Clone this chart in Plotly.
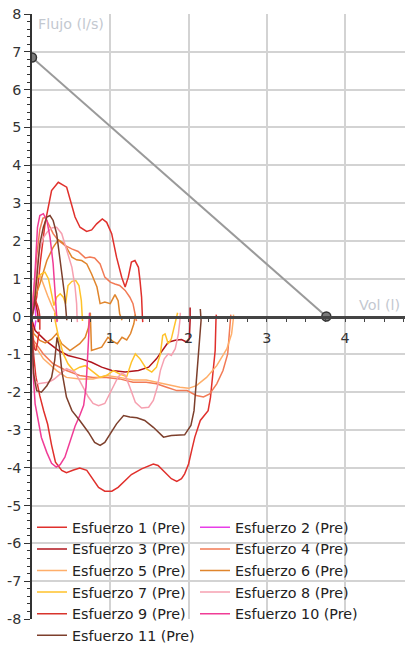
import plotly.graph_objects as go

# ---------------- data ----------------
series_names = ["Esfuerzo 1 (Pre)", "Esfuerzo 2 (Pre)", "Esfuerzo 3 (Pre)", "Esfuerzo 4 (Pre)",
                "Esfuerzo 5 (Pre)", "Esfuerzo 6 (Pre)", "Esfuerzo 7 (Pre)", "Esfuerzo 8 (Pre)",
                "Esfuerzo 9 (Pre)", "Esfuerzo 10 (Pre)", "Esfuerzo 11 (Pre)"]
series_colors = ["#e0302c", "#e83ee8", "#b0141c", "#f27a55", "#ffae6a", "#e0852c",
                 "#ffc22a", "#f6a0b0", "#d8342c", "#f03c96", "#7d3f2c"]

# each series: expiration (flow > 0) then inspiration (flow < 0), separated by None
esf1_vol = [0.0, 0.02, 0.06, 0.11, 0.166, 0.25, 0.336, 0.443, 0.507, 0.55, 0.613, 0.698, 0.762, 0.826, 0.898,
            0.954, 1.018, 1.08, 1.146, 1.19, 1.23, 1.27, 1.315, 1.36, 1.38, 1.40, 1.41, 1.415, None,
            0.0, 0.02, 0.05, 0.10, 0.15, 0.20, 0.25, 0.30, 0.38, 0.44, 0.53, 0.61, 0.70, 0.76, 0.85, 0.93,
            1.02, 1.10, 1.19, 1.27, 1.40, 1.55, 1.61, 1.70, 1.78, 1.85, 1.91, 1.95, 2.0, 2.04, 2.08, 2.15,
            2.25, 2.28, 2.31, 2.34, 2.35, 2.355]
esf1_flujo = [0.0, 0.2, 0.51, 1.5, 2.45, 3.33, 3.55, 3.42, 2.98, 2.63, 2.36, 2.25, 2.29, 2.45, 2.58,
              2.49, 2.19, 1.57, 1.04, 0.78, 1.04, 1.44, 1.48, 1.30, 0.95, 0.51, 0.0, -0.15, None,
              -0.3, -1.0, -1.6, -2.1, -2.5, -2.85, -3.4, -3.85, -4.07, -4.13, -4.06, -4.01, -4.07, -4.25, -4.52, -4.62,
              -4.62, -4.52, -4.34, -4.18, -4.03, -3.90, -3.94, -4.12, -4.29, -4.36, -4.29, -4.16, -3.90, -3.54, -3.19, -2.75,
              -2.49, -2.14, -1.56, -0.9, -0.1, 0.05]

esf2_vol = [0.0, 0.01, 0.025, 0.04, 0.05, None, 0.0, 0.01, 0.03, 0.05]
esf2_flujo = [0.0, 0.35, 0.5, 0.25, 0.0, None, -0.05, -0.3, -0.35, -0.1]

esf3_vol = [0.0, 0.01, 0.025, 0.04, 0.06, 0.075, 0.08, None,
            0.0, 0.04, 0.17, 0.34, 0.46, 0.63, 0.76, 0.89, 1.02, 1.19, 1.36, 1.49, 1.59, 1.68, 1.74,
            1.83, 1.91, 1.98, 2.01, 2.02, 2.02]
esf3_flujo = [0.0, 0.35, 0.55, 0.45, 0.25, 0.05, -0.15, None,
              -0.1, -0.37, -0.63, -0.90, -1.03, -1.12, -1.21, -1.34, -1.43, -1.47, -1.43, -1.34, -1.12, -0.85, -0.68,
              -0.63, -0.61, -0.68, -0.59, -0.1, 0.24]

esf4_vol = [0.0, 0.02, 0.06, 0.10, 0.14, 0.17, 0.22, 0.27, 0.336, 0.42, 0.507, 0.59, 0.68, 0.74, 0.80, 0.87,
            0.93, 1.0, 1.06, 1.12, 1.19, 1.25, 1.29, 1.32, 1.335, None,
            0.0, 0.02, 0.145, 0.27, 0.44, 0.61, 0.78, 0.95, 1.12, 1.29, 1.46, 1.59, 1.72, 1.85, 1.98,
            2.10, 2.19, 2.27, 2.36, 2.44, 2.50, 2.53, 2.54]
esf4_flujo = [0.0, 0.5, 1.6, 2.3, 2.6, 2.62, 2.4, 2.19, 2.01, 1.88, 1.79, 1.72, 1.55, 1.57, 1.55, 1.39,
              1.04, 0.91, 0.86, 0.82, 0.69, 0.51, 0.34, 0.07, -0.12, None,
              -0.2, -0.63, -0.99, -1.25, -1.43, -1.56, -1.61, -1.61, -1.65, -1.74, -1.74, -1.78, -1.87, -1.96, -1.96,
              -2.09, -2.13, -2.05, -1.78, -1.43, -0.99, -0.3, 0.05]

esf5_vol = [0.0, 0.02, 0.05, 0.08, 0.11, 0.15, 0.2, 0.25, 0.3, 0.32, 0.325, None,
            0.0, 0.02, 0.145, 0.315, 0.44, 0.61, 0.78, 0.95, 1.12, 1.29, 1.46, 1.59, 1.72, 1.89, 2.0,
            2.10, 2.23, 2.36, 2.49, 2.55, 2.57, 2.575]
esf5_flujo = [0.0, 0.5, 0.9, 1.1, 1.05, 0.8, 0.55, 0.3, 0.1, 0.0, -0.12, None,
              -0.2, -0.71, -1.12, -1.43, -1.61, -1.65, -1.65, -1.56, -1.61, -1.68, -1.68, -1.74, -1.80, -1.87, -1.90,
              -1.83, -1.61, -1.30, -0.85, -0.46, -0.1, 0.05]

esf6_vol = [0.0, 0.04, 0.10, 0.19, 0.27, 0.336, 0.40, 0.44, 0.51, 0.57, 0.635, 0.70, 0.76, 0.83, 0.87,
            0.93, 1.0, 1.06, 1.10, 1.12, 1.15, None,
            0.0, 0.02, 0.1, 0.17, 0.25, 0.315, 0.38, 0.485, 0.61, 0.68, 0.72, 0.735, 0.745, 0.76, 0.82,
            0.89, 0.97, 1.03, 1.09, 1.15, 1.21, 1.26, 1.30, 1.32]
esf6_flujo = [0.0, 0.51, 0.86, 1.48, 1.83, 2.03, 1.94, 1.83, 1.57, 1.50, 1.48, 1.39, 1.13, 0.78, 0.34,
              0.38, 0.34, 0.58, 0.42, 0.07, -0.1, None,
              -0.2, -0.45, -0.63, -0.7, -0.6, -0.45, -0.72, -0.9, -0.72, -0.55, -0.3, 0.0, 0.1, -0.9, -0.85,
              -0.81, -0.55, -0.65, -0.72, -0.55, -0.62, -0.45, -0.2, 0.05]

esf7_vol = [0.0, 0.02, 0.06, 0.12, 0.166, 0.21, 0.25, 0.28, 0.315, 0.36, 0.40, 0.43, 0.46, 0.51, 0.56,
            0.60, 0.63, 0.64, 0.645, None,
            0.29, 0.295, 0.34, 0.40, 0.46, 0.53, 0.61, 0.68, 0.76, 0.87, 0.95, 1.04, 1.12, 1.21, 1.27,
            1.32, 1.38, 1.46, 1.53, 1.59, 1.64, 1.67, 1.70, 1.74, 1.78, 1.83, 1.86]
esf7_flujo = [0.0, 0.69, 1.0, 1.13, 1.17, 1.0, 0.60, 0.29, 0.51, 0.60, 0.51, 0.34, 0.82, 0.93, 0.95,
              0.82, 0.42, 0.0, -0.12, None,
              0.1, -0.1, -0.55, -0.99, -1.25, -1.43, -1.34, -1.3, -1.43, -1.61, -1.56, -1.43, -1.52, -1.59, -1.21,
              -0.99, -1.12, -1.38, -1.47, -1.34, -0.99, -0.5, -0.46, -0.72, -0.59, -0.1, 0.1]

esf8_vol = [0.0, 0.02, 0.06, 0.1, 0.15, 0.2, 0.26, 0.315, 0.38, 0.44, 0.51, 0.55, 0.57, 0.575, 0.58, None,
            0.0, 0.01, 0.04, 0.08, 0.14, 0.21, 0.28, 0.34, 0.44, 0.55, 0.635, 0.72, 0.78, 0.85, 0.93,
            0.98, 1.04, 1.1, 1.15, 1.19, 1.25, 1.32, 1.40, 1.49, 1.55, 1.60, 1.64, 1.69, 1.74, 1.78,
            1.83, 1.87, 1.89, 1.895]
esf8_flujo = [0.0, 0.6, 1.3, 1.8, 2.1, 2.25, 2.35, 2.36, 2.19, 1.75, 1.30, 0.78, 0.34, 0.0, -0.15, None,
              -0.3, -1.2, -1.7, -1.78, -1.76, -1.74, -1.66, -1.56, -1.38, -1.47, -1.78, -2.13, -2.3, -2.36, -2.3,
              -2.1, -1.85, -1.6, -1.5, -1.55, -1.87, -2.27, -2.42, -2.40, -2.22, -1.87, -1.43, -1.12, -0.99, -1.03,
              -0.85, -0.46, -0.1, 0.1]

esf9_vol = [0.0, 0.01, 0.03, 0.05, 0.07, 0.09, 0.10, 0.10, None, 0.0, 0.01, 0.03, 0.05, 0.07, 0.09]
esf9_flujo = [0.0, 0.25, 0.45, 0.4, 0.3, 0.15, 0.0, -0.35, None, -0.15, -0.5, -0.85, -0.9, -0.7, -0.4]

esf10_vol = [0.0, 0.02, 0.04, 0.07, 0.10, 0.145, 0.19, 0.23, 0.27, 0.29, 0.315, 0.32, None,
             0.0, 0.01, 0.02, 0.04, 0.08, 0.12, 0.19, 0.25, 0.31, 0.36, 0.42, 0.485, 0.55, 0.61, 0.66,
             0.69, 0.71, 0.725, 0.73, 0.735]
esf10_flujo = [0.0, 0.5, 1.22, 2.36, 2.67, 2.72, 2.54, 2.10, 1.39, 0.78, 0.0, -0.15, None,
               -0.3, -1.0, -1.69, -2.31, -2.75, -3.2, -3.6, -3.88, -3.98, -3.92, -3.72, -3.3, -2.9, -2.62, -2.35,
               -1.87, -1.2, -0.5, -0.1, 0.1]

esf11_vol = [0.0, 0.03, 0.06, 0.10, 0.145, 0.19, 0.23, 0.27, 0.315, 0.336, 0.36, 0.39, 0.42, 0.44, 0.445, None,
             0.0, 0.02, 0.06, 0.12, 0.19, 0.25, 0.29, 0.32, 0.35, 0.38, 0.44, 0.51, 0.61, 0.72, 0.80,
             0.87, 0.93, 1.0, 1.08, 1.17, 1.25, 1.34, 1.44, 1.55, 1.68, 1.78, 1.95, 2.03, 2.07, 2.10,
             2.13, 2.16, 2.15]
esf11_flujo = [0.0, 0.3, 1.0, 1.92, 2.36, 2.63, 2.67, 2.54, 2.19, 1.83, 1.39, 0.86, 0.51, 0.0, -0.1, None,
               -0.3, -1.52, -1.96, -2.0, -1.83, -1.61, -1.16, -0.55, -0.81, -1.43, -2.13, -2.49, -2.75, -3.06, -3.33,
               -3.41, -3.33, -3.10, -2.84, -2.62, -2.66, -2.68, -2.75, -2.93, -3.19, -3.15, -3.13, -2.88, -2.49, -1.69,
               -0.99, -0.1, 0.2]

series_vol = [esf1_vol, esf2_vol, esf3_vol, esf4_vol, esf5_vol, esf6_vol,
              esf7_vol, esf8_vol, esf9_vol, esf10_vol, esf11_vol]
series_flujo = [esf1_flujo, esf2_flujo, esf3_flujo, esf4_flujo, esf5_flujo, esf6_flujo,
                esf7_flujo, esf8_flujo, esf9_flujo, esf10_flujo, esf11_flujo]

# predicted line (PEF -> FVC)
linea_vol = [0.0, 3.76]
linea_flujo = [6.85, 0.0]

x_tick_vals = [1, 2, 3, 4]
x_tick_labels = ["1", "2", "3", "4"]
y_tick_vals = [8, 7, 6, 5, 4, 3, 2, 1, 0, -1, -2, -3, -4, -5, -6, -7, -8]
y_tick_labels = ["8", "7", "6", "5", "4", "3", "2", "1", "0", "-1", "-2", "-3", "-4", "-5", "-6", "-7", "-8"]

FONT = "DejaVu Sans"

fig = go.Figure()

fig.add_trace(go.Scatter(
    x=linea_vol, y=linea_flujo, mode="lines+markers", showlegend=False, hoverinfo="skip",
    line=dict(color="#9a9a9a", width=2),
    marker=dict(size=9, color="#7a7a7a", line=dict(color="#333333", width=1.5)),
    cliponaxis=True,
))

for name, color, xv, yv in zip(series_names, series_colors, series_vol, series_flujo):
    fig.add_trace(go.Scatter(
        x=xv, y=yv, mode="lines", name=name,
        line=dict(color=color, width=1.5),
        connectgaps=False,
    ))

grid = "#d3d3d3"
fig.update_layout(
    width=405, height=648,
    margin=dict(l=32, r=0, t=14, b=29, autoexpand=False),
    plot_bgcolor="white", paper_bgcolor="white",
    font=dict(family=FONT, size=14.3, color="#333333"),
    showlegend=True,
    legend=dict(
        orientation="h", x=0, xanchor="left", y=(619 - 511.5) / 605, yanchor="top",
        entrywidth=118, entrywidthmode="pixels",
        bgcolor="rgba(0,0,0,0)", borderwidth=0,
        font=dict(family=FONT, size=14.3, color="#222222"),
        traceorder="normal",
    ),
    xaxis=dict(
        range=[0, 4.765], anchor="free", position=0.5,
        showline=True, linecolor="#444444", linewidth=2.5,
        showgrid=True, gridcolor=grid, gridwidth=1.5,
        zeroline=False,
        tickmode="array", tickvals=x_tick_vals, ticktext=x_tick_labels,
        ticks="outside", ticklen=4, tickcolor="#444444", tickwidth=1,
        ticklabelstandoff=4,
        minor=dict(dtick=0.25, tick0=0, ticks="outside", ticklen=4, tickcolor="#444444", showgrid=False),
        tickfont=dict(family=FONT, size=14.3, color="#333333"),
    ),
    yaxis=dict(
        range=[-8, 8],
        showline=True, linecolor="#333333", linewidth=1.5,
        showgrid=True, gridcolor=grid, gridwidth=1.5,
        zeroline=False,
        tickmode="array", tickvals=y_tick_vals, ticktext=y_tick_labels,
        ticks="outside", ticklen=6, tickcolor="#333333", tickwidth=1,
        minor=dict(dtick=0.2, tick0=0, ticks="outside", ticklen=3, tickcolor="#333333", showgrid=False),
        tickfont=dict(family=FONT, size=14.3, color="#333333"),
    ),
    annotations=[
        dict(text="Flujo (l/s)", xref="paper", yref="paper", x=0.012, y=0.984,
             xanchor="left", yanchor="middle", showarrow=False,
             font=dict(family=FONT, size=14.3, color="#c3c8d0")),
        dict(text="Vol (l)", xref="paper", yref="paper", x=0.993, y=0.519,
             xanchor="right", yanchor="middle", showarrow=False,
             font=dict(family=FONT, size=14.3, color="#c3c8d0")),
    ],
)

fig.write_html("out.html", config={"displayModeBar": False},
               post_script="document.body.style.margin='0px';document.body.style.padding='0px';")
